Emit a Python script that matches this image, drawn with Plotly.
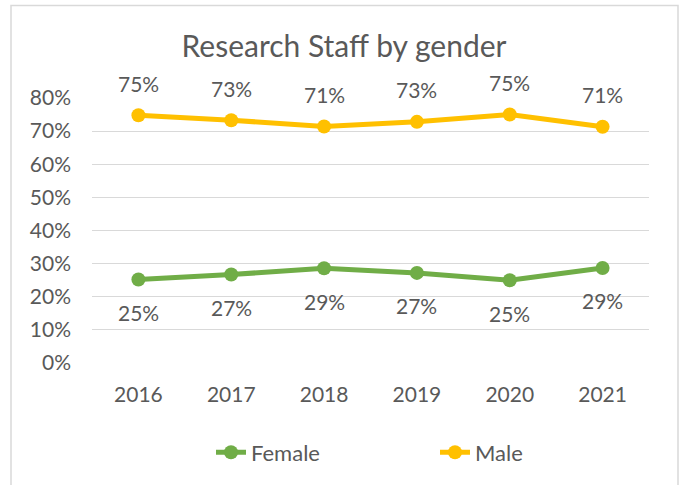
import plotly.graph_objects as go

years = ["2016", "2017", "2018", "2019", "2020", "2021"]
female = [0.252, 0.267, 0.286, 0.272, 0.250, 0.287]
male = [0.748, 0.733, 0.714, 0.728, 0.750, 0.713]
y_ticks = [0, 0.1, 0.2, 0.3, 0.4, 0.5, 0.6, 0.7, 0.8]

GREEN = "#70AD47"
GOLD = "#FFC000"
TEXT = "#595959"
FONT = "Lato, 'Open Sans', sans-serif"

W, H = 679, 485
L, R, T, B = 92, 30, 97.7, 121.7
pw = W - L - R
ph = H - T - B

def px_x(p):
    return (p - L) / pw

def px_y(p):
    return (H - B - p) / ph

fig = go.Figure()
fig.add_trace(go.Scatter(x=years, y=female, name="Female", mode="lines+markers",
                         line=dict(color=GREEN, width=5), marker=dict(size=14, color=GREEN),
                         legend="legend"))
fig.add_trace(go.Scatter(x=years, y=male, name="Male", mode="lines+markers",
                         line=dict(color=GOLD, width=5), marker=dict(size=14, color=GOLD),
                         legend="legend2"))

annotations = []
for i, v in enumerate(male):
    annotations.append(dict(x=i, y=v, xref="x", yref="y", text=f"{round(v*100)}%",
                            showarrow=False, yshift=32,
                            font=dict(size=21, color=TEXT, family=FONT)))
for i, v in enumerate(female):
    annotations.append(dict(x=i, y=v, xref="x", yref="y", text=f"{round(v*100)}%",
                            showarrow=False, yshift=-33,
                            font=dict(size=21, color=TEXT, family=FONT)))

fig.update_layout(
    width=W, height=H,
    margin=dict(l=L, r=R, t=T, b=B, autoexpand=False),
    paper_bgcolor="white", plot_bgcolor="white",
    font=dict(family=FONT, color=TEXT, size=21),
    title=dict(text="Research Staff by gender", xref="paper", x=px_x(344), xanchor="center",
               y=1 - 46 / H, yanchor="middle",
               font=dict(size=30, color=TEXT, family=FONT)),
    xaxis=dict(type="category", categoryorder="array", categoryarray=years,
               range=[-0.5, len(years) - 0.5], autorange=False,
               showgrid=False, showline=False, zeroline=False, ticks="",
               ticklabelstandoff=17, tickfont=dict(size=21, color=TEXT)),
    yaxis=dict(range=[0, 0.8], autorange=False, tickvals=y_ticks, tickformat=".0%",
               showgrid=True, gridcolor="#D9D9D9", gridwidth=1.3,
               zeroline=False, showline=False, ticks="", ticklabelstandoff=20,
               tickfont=dict(size=21, color=TEXT)),
    showlegend=True,
    legend=dict(orientation="h", x=px_x(211), xanchor="left", y=px_y(453), yanchor="middle",
                font=dict(size=22, color=TEXT), bgcolor="rgba(0,0,0,0)"),
    legend2=dict(orientation="h", x=px_x(435), xanchor="left", y=px_y(453), yanchor="middle",
                 font=dict(size=22, color=TEXT), bgcolor="rgba(0,0,0,0)"),
    annotations=annotations,
    shapes=[dict(type="rect", xref="paper", yref="paper",
                 x0=px_x(11), x1=px_x(678), y0=px_y(495), y1=px_y(5),
                 line=dict(color="#D9D9D9", width=1.5), fillcolor="rgba(0,0,0,0)", layer="below")],
)

fig.write_html("out.html", config={"displayModeBar": False},
               post_script="document.body.style.margin='0';document.body.style.overflow='hidden';")
